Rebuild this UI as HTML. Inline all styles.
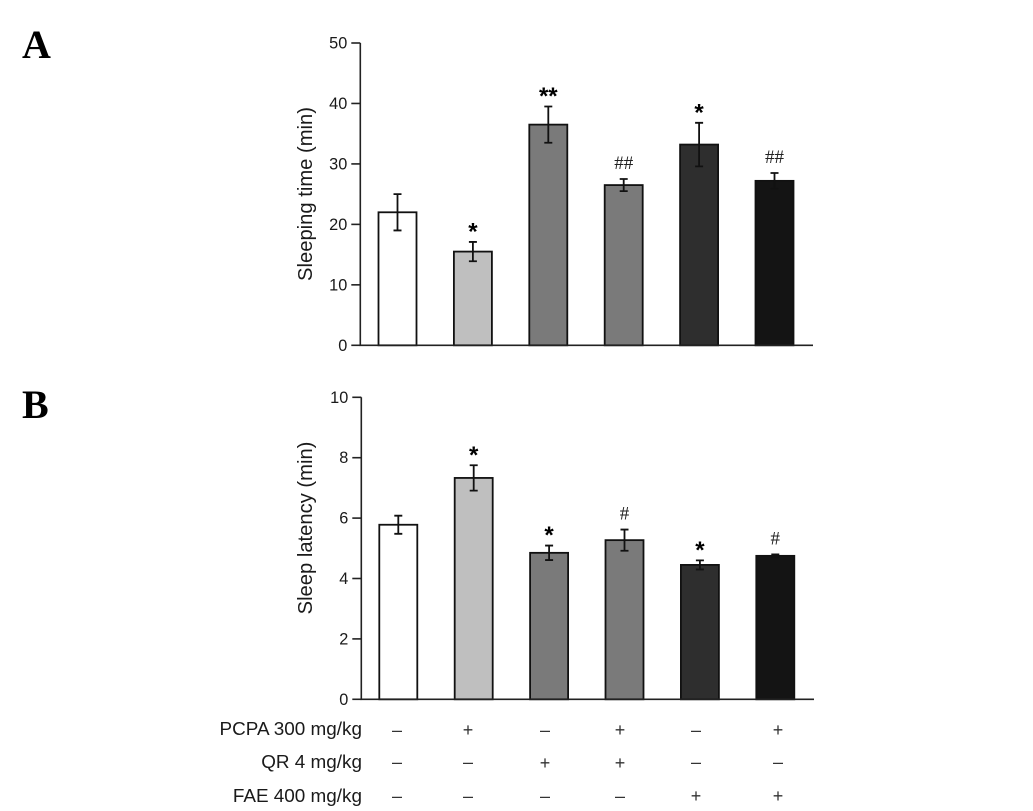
<!DOCTYPE html>
<html lang="en">
<head>
<meta charset="utf-8">
<title>Sleeping time and sleep latency</title>
<style>
  html, body { margin: 0; padding: 0; background: #fff; }
  svg { display: block; }
  text { font-family: "Liberation Sans", sans-serif; fill: #1a1a1a; }
  .panel { font-family: "Liberation Serif", serif; font-weight: bold; font-size: 40px; fill: #000; }
  .tick-label { font-size: 16.3px; text-anchor: end; }
  .axis-title { font-size: 20.2px; text-anchor: middle; }
  .row-label { font-size: 18.9px; text-anchor: end; }
  .mark { font-size: 18px; text-anchor: middle; fill: #333; }
  .star { font-size: 24px; font-weight: bold; text-anchor: middle; fill: #000; }
  .hash { font-family: "Liberation Serif", serif; font-size: 19px; text-anchor: middle; fill: #222; }
  .axis { stroke: #222; stroke-width: 1.6; fill: none; }
  .err { stroke: #111; stroke-width: 1.8; fill: none; }
  .bar { stroke: #111; stroke-width: 1.8; }
  .bar-0 { fill: #ffffff; }
  .bar-1 { fill: #bfbfbf; }
  .bar-2 { fill: #7a7a7a; }
  .bar-3 { fill: #7a7a7a; }
  .bar-4 { fill: #2e2e2e; }
  .bar-5 { fill: #141414; }
</style>
</head>
<body>
<svg id="fig" xmlns="http://www.w3.org/2000/svg" width="1033" height="811" viewBox="0 0 1033 811">
  <rect width="1033" height="811" fill="#fff"/>
  <text class="panel" x="22" y="58">A</text>
  <text class="panel" x="22" y="418">B</text>

  <g>
    <text class="row-label" x="362" y="735">PCPA 300 mg/kg</text>
    <text class="row-label" x="362" y="768">QR 4 mg/kg</text>
    <text class="row-label" x="362" y="802">FAE 400 mg/kg</text>

    <text class="mark" x="397" y="736">–</text>
    <text class="mark" x="468" y="736">+</text>
    <text class="mark" x="545" y="736">–</text>
    <text class="mark" x="620" y="736">+</text>
    <text class="mark" x="696" y="736">–</text>
    <text class="mark" x="778" y="736">+</text>

    <text class="mark" x="397" y="768">–</text>
    <text class="mark" x="468" y="768">–</text>
    <text class="mark" x="545" y="769">+</text>
    <text class="mark" x="620" y="769">+</text>
    <text class="mark" x="696" y="768">–</text>
    <text class="mark" x="778" y="768">–</text>

    <text class="mark" x="397" y="802">–</text>
    <text class="mark" x="468" y="802">–</text>
    <text class="mark" x="545" y="802">–</text>
    <text class="mark" x="620" y="802">–</text>
    <text class="mark" x="696" y="802">+</text>
    <text class="mark" x="778" y="802">+</text>
  </g>
</svg>
<script>
const groups = ["control", "pcpa", "qr", "pcpa-qr", "fae", "pcpa-fae"];

const timeValues = [22, 15.5, 36.5, 26.5, 33.2, 27.2];
const timeErrors = [3, 1.6, 3, 1, 3.6, 1.3];
const timeNotes = ["", "*", "**", "##", "*", "##"];
const timeTicks = [0, 10, 20, 30, 40, 50];

const latencyValues = [5.78, 7.33, 4.85, 5.27, 4.45, 4.75];
const latencyErrors = [0.3, 0.42, 0.24, 0.35, 0.15, 0.05];
const latencyNotes = ["", "*", "*", "#", "*", "#"];
const latencyTicks = [0, 2, 4, 6, 8, 10];

const svg = document.getElementById("fig");
const NS = "http://www.w3.org/2000/svg";

function make(parent, tag, attrs, content) {
  const el = document.createElementNS(NS, tag);
  for (const key in attrs) el.setAttribute(key, attrs[key]);
  if (content !== undefined) el.textContent = content;
  parent.appendChild(el);
  return el;
}

function drawPanel(cfg) {
  const g = make(svg, "g", {});
  
  

  const maxTick = Math.max(...cfg.ticks);
  const yScale = v => cfg.y0 - (v / maxTick) * (cfg.y0 - cfg.yTop);
  const xScale = i => cfg.x0 + i * cfg.step;
  const halfBar = 19;
  const capHalf = 4;

  cfg.values.forEach((value, i) => {
    const xc = xScale(i);
    const bar = make(g, "rect", {
      class: "bar bar-" + i,
      x: xc - halfBar,
      y: yScale(value),
      width: halfBar * 2,
      height: cfg.y0 - yScale(value)
    });
    
    

    const hi = yScale(value + cfg.errors[i]);
    const lo = yScale(value - cfg.errors[i]);
    const err = make(g, "path", {
      class: "err",
      d: "M" + (xc - capHalf) + " " + hi + "H" + (xc + capHalf) +
         "M" + xc + " " + hi + "V" + lo +
         "M" + (xc - capHalf) + " " + lo + "H" + (xc + capHalf)
    });
    
    

    const note = cfg.notes[i];
    if (note) {
      const isStar = note.charAt(0) === "*";
      const label = make(g, "text", {
        class: isStar ? "star" : "hash",
        x: xc,
        y: hi + (isStar ? -2.5 : -10)
      }, note);
      
      
    }
  });

  const axis = make(g, "path", {
    class: "axis",
    d: "M" + cfg.axisX + " " + cfg.yTop + "V" + cfg.y0 + "H" + cfg.axisEnd
  });
  
  

  cfg.ticks.forEach(t => {
    const y = yScale(t);
    const tick = make(g, "line", {
      class: "axis",
      x1: cfg.axisX - 9,
      x2: cfg.axisX,
      y1: y,
      y2: y
    });
    
    

    const label = make(g, "text", {
      class: "tick-label",
      x: cfg.axisX - 13,
      y: y + 5.5
    }, String(t));
    
    
  });

  const title = make(g, "text", {
    class: "axis-title",
    transform: "translate(" + cfg.titleX + " " + cfg.titleY + ") rotate(-90)"
  }, cfg.title);
  
  
}

drawPanel({
  name: "sleeping-time-chart",
  title: "Sleeping time (min)",
  values: timeValues,
  errors: timeErrors,
  notes: timeNotes,
  ticks: timeTicks,
  x0: 397.5,
  step: 75.4,
  axisX: 360.3,
  axisEnd: 813,
  yTop: 43,
  y0: 345.3,
  titleX: 312,
  titleY: 194
});

drawPanel({
  name: "sleep-latency-chart",
  title: "Sleep latency (min)",
  values: latencyValues,
  errors: latencyErrors,
  notes: latencyNotes,
  ticks: latencyTicks,
  x0: 398.3,
  step: 75.4,
  axisX: 361.3,
  axisEnd: 814,
  yTop: 397.3,
  y0: 699.3,
  titleX: 312,
  titleY: 528
});
</script>
</body>
</html>
